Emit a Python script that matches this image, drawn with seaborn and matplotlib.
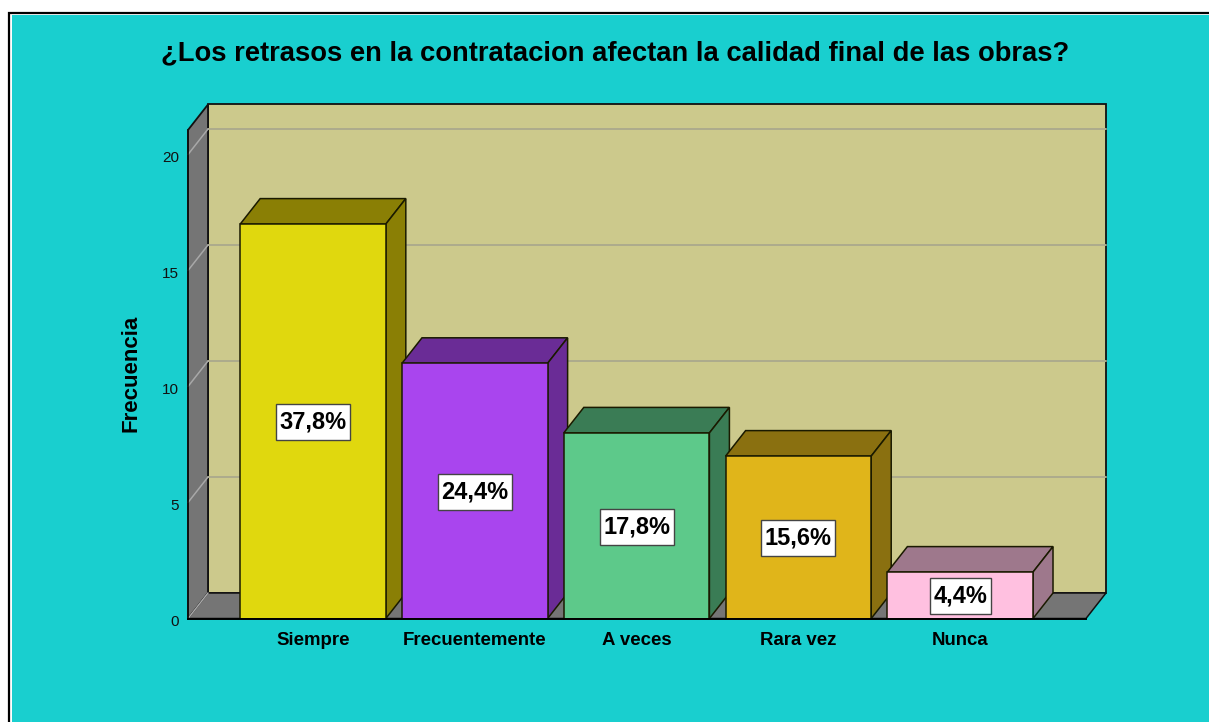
import pandas as pd
import matplotlib
matplotlib.use("Agg")
import matplotlib.pyplot as plt
from matplotlib.patches import Polygon, Rectangle
from matplotlib.transforms import ScaledTranslation
import seaborn as sns

categorias = ['Siempre', 'Frecuentemente', 'A veces', 'Rara vez', 'Nunca']
frecuencias = [17, 11, 8, 7, 2]
porcentajes = ['37,8%', '24,4%', '17,8%', '15,6%', '4,4%']
colores = ['#E0D80E', '#A945EE', '#5DC98A', '#E0B51A', '#FFC0E0']
colores_lado = ['#8A7F05', '#6A2C96', '#3A7C55', '#8A7010', '#9E788C']
marcas_y = [0, 5, 10, 15, 20]

TEAL = '#19CFCF'
PARED = '#CCC98C'
GRIS = '#757575'
W, H = 1209, 722

# escala del grafico, en pixeles
X0, X1 = 188, 1086
Y0, Y1 = 618.5, 130
PX_CAT = 161.8
PX_UNI = 23.2
DX = 20 / PX_CAT
DY = 25.5 / PX_UNI

sns.set_theme(style="white")
plt.rcParams['font.family'] = ['Liberation Sans', 'DejaVu Sans']

fig = plt.figure(figsize=(W / 100, H / 100), dpi=100, facecolor='white')

# marco de la pagina (por debajo de los ejes)
fig.add_artist(Rectangle((9 / W, -0.01), (W + 20) / W, (H - 13) / H + 0.01, transform=fig.transFigure,
                         facecolor='white', edgecolor='black', linewidth=1.6, zorder=-2))
fig.add_artist(Rectangle((12 / W, -0.01), (W + 20) / W, (H - 15) / H + 0.01, transform=fig.transFigure,
                         facecolor=TEAL, edgecolor='none', zorder=-1))

ax = fig.add_axes([X0 / W, 1 - Y0 / H, (X1 - X0) / W, (Y0 - Y1) / H])
ax.patch.set_visible(False)

df = pd.DataFrame({'categoria': categorias, 'frecuencia': frecuencias})
sns.barplot(data=df, x='categoria', y='frecuencia', hue='categoria', palette=colores,
            saturation=1, width=0.9, edgecolor='#1a1a00', linewidth=1.1, legend=False, ax=ax)

xmin = -(313 - X0) / PX_CAT
xmax = (X1 - 313) / PX_CAT
ymax = (Y0 - Y1) / PX_UNI
ax.set_xlim(xmin, xmax)
ax.set_ylim(0, ymax)

barras = list(ax.patches[:len(categorias)])

# paredes del fondo
ax.add_patch(Polygon([(xmin + DX, DY), (xmax + DX, DY), (xmax + DX, ymax + DY), (xmin + DX, ymax + DY)],
                     closed=True, facecolor=PARED, edgecolor='#111111', linewidth=1.3, clip_on=False, zorder=0.5))
ax.add_patch(Polygon([(xmin, 0), (xmin + DX, DY), (xmin + DX, ymax + DY), (xmin, ymax)],
                     closed=True, facecolor=GRIS, edgecolor='#111111', linewidth=1.3, clip_on=False, zorder=0.6))
ax.add_patch(Polygon([(xmin, 0), (xmax, 0), (xmax + DX, DY), (xmin + DX, DY)],
                     closed=True, facecolor=GRIS, edgecolor='#111111', linewidth=1.1, clip_on=False, zorder=0.6))

# rejilla
for v in marcas_y:
    if v > 0:
        ax.plot([xmin + DX, xmax + DX], [v + DY, v + DY], color='#ADAB8C', lw=1.4, clip_on=False, zorder=0.7)
    ax.plot([xmin, xmin + DX], [v, v + DY], color='#A8A8A8', lw=1.1, clip_on=False, zorder=0.7)

# caras laterales y superiores de cada barra, y etiqueta con su caja
renderer = fig.canvas.get_renderer()
for i, barra in enumerate(barras):
    x = barra.get_x()
    w = barra.get_width()
    h = barra.get_height()
    z = 3 + i
    barra.set_zorder(z + 0.2)
    ax.add_patch(Polygon([(x, h), (x + w, h), (x + w + DX, h + DY), (x + DX, h + DY)], closed=True,
                         facecolor=colores_lado[i], edgecolor='#1a1a00', linewidth=1.1, zorder=z))
    ax.add_patch(Polygon([(x + w, 0), (x + w + DX, DY), (x + w + DX, h + DY), (x + w, h)], closed=True,
                         facecolor=colores_lado[i], edgecolor='#1a1a00', linewidth=1.1, zorder=z))
    centro_y = h / 2 - 1 / PX_UNI
    etiqueta = ax.text(x + w / 2, centro_y, porcentajes[i], ha='center', va='center', fontsize=17,
                       fontweight='bold', color='black', zorder=21)
    ancho = etiqueta.get_window_extent(renderer).width + 7
    ax.add_patch(Rectangle((x + w / 2 - ancho / 2 / PX_CAT, centro_y - 18 / PX_UNI), ancho / PX_CAT, 36 / PX_UNI,
                           facecolor='white', edgecolor='#444444', linewidth=1, zorder=20))

for lado in ['top', 'right']:
    ax.spines[lado].set_visible(False)
ax.spines['bottom'].set_color('black')
ax.spines['bottom'].set_linewidth(1.4)
ax.spines['bottom'].set_zorder(30)
ax.spines['left'].set_color('#111111')
ax.spines['left'].set_linewidth(1.3)

ax.set_yticks(marcas_y)
ax.tick_params(axis='y', length=0, pad=6.5, labelsize=11, labelcolor='#111111')
ax.tick_params(axis='x', length=0, pad=10, labelsize=13.4, labelcolor='black')
for t in ax.get_xticklabels():
    t.set_fontweight('bold')
bajar = ScaledTranslation(0, -2 / 100, fig.dpi_scale_trans)
for t in ax.get_yticklabels():
    t.set_transform(t.get_transform() + bajar)

ax.set_xlabel('')
ax.set_ylabel('Frecuencia', fontsize=16, fontweight='bold', color='black')
ax.yaxis.set_label_coords((142 - X0) / (X1 - X0), (Y0 - 373) / (Y0 - Y1))

fig.text(615 / W, 1 - 53 / H, '¿Los retrasos en la contratacion afectan la calidad final de las obras?',
         ha='center', va='center', fontsize=19.75, fontweight='bold', color='black')

fig.savefig('out.png', dpi=100, facecolor=fig.get_facecolor())
plt.close(fig)
